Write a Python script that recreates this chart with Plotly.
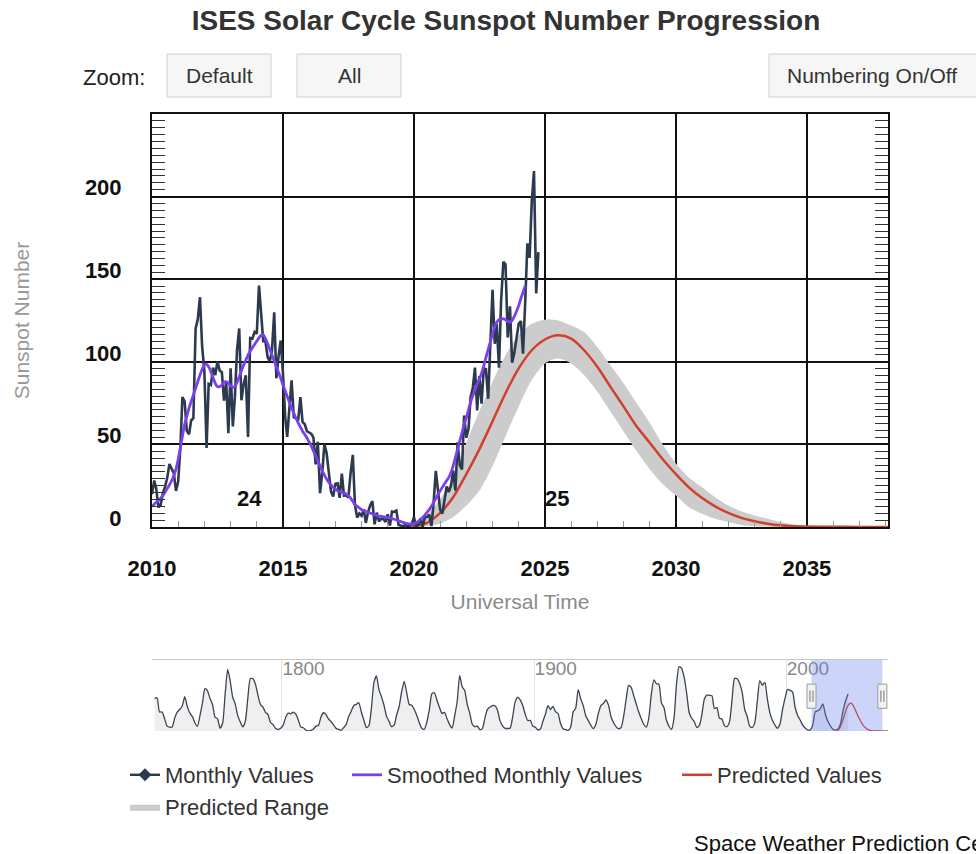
import pandas as pd
import plotly.graph_objects as go

# ---------------- data ----------------
monthly_start = "2010-01-01"
monthly_values = [
    19.8, 28.1, 23.3, 11.9, 13.3, 20.4, 24.3, 29.6, 38.1, 35.5, 32.6, 21.9,
    27.3, 48.3, 78.6, 76.1, 58.2, 56.1, 64.5, 65.8, 120.1, 125.7, 139.1, 109.3,
    94.4, 47.8, 86.6, 85.9, 96.5, 92.0, 100.1, 94.8, 93.7, 76.5, 87.6, 56.8,
    96.1, 60.9, 78.3, 107.3, 120.2, 76.7, 86.2, 91.8, 54.5, 114.4, 114.0, 118.1,
    117.0, 146.1, 128.7, 112.5, 112.5, 102.9, 100.2, 106.9, 130.0, 90.0, 103.6, 112.9,
    93.0, 66.7, 54.5, 75.3, 88.8, 66.5, 65.8, 64.4, 78.6, 63.6, 62.2, 58.0,
    57.0, 56.4, 54.1, 37.9, 51.5, 20.5, 32.4, 50.2, 44.6, 33.4, 21.4, 18.5,
    26.1, 26.4, 17.7, 32.3, 18.9, 19.2, 17.8, 32.6, 43.7, 13.2, 5.7, 8.2,
    6.8, 10.7, 2.5, 8.9, 13.1, 15.6, 1.6, 8.7, 3.3, 4.9, 4.9, 3.1,
    7.7, 0.8, 9.4, 9.1, 9.9, 1.2, 0.9, 0.5, 1.1, 0.4, 0.5, 1.5,
    6.2, 0.2, 1.5, 5.2, 0.2, 5.8, 6.1, 7.5, 0.6, 14.4, 34.0, 21.8,
    10.4, 8.2, 17.2, 24.5, 21.2, 25.0, 34.3, 22.0, 51.3, 37.4, 34.8, 67.5,
    54.0, 59.7, 78.5, 84.1, 96.5, 70.5, 91.4, 74.6, 96.0, 95.5, 77.6, 113.1,
    143.6, 110.9, 122.8, 96.4, 137.4, 160.5, 159.1, 114.8, 133.6, 99.4, 105.4, 114.2,
    123.0, 124.7, 104.9, 136.5, 171.7, 162.9, 196.8, 215.5, 141.4, 166.4,
]

smoothed_start = "2010-01-01"
smoothed_values = [
    12.5, 13.8, 15.0, 16.1, 17.4, 19.0, 21.0, 23.3, 25.5, 28.0, 31.0, 35.0,
    41.0, 48.0, 55.0, 62.0, 67.0, 72.0, 76.0, 80.0, 84.0, 88.0, 92.0, 95.5,
    98.0, 98.5, 97.0, 94.0, 90.5, 87.0, 85.0, 85.0, 86.0, 87.5, 88.0, 87.0,
    85.5, 84.5, 85.0, 87.5, 91.0, 94.5, 98.0, 101.0, 104.0, 106.5, 108.5, 110.5,
    112.5, 114.5, 116.0, 116.5, 114.0, 111.0, 107.5, 104.0, 100.5, 97.0, 93.5, 90.0,
    86.0, 82.5, 79.0, 75.5, 72.0, 69.0, 66.0, 63.0, 60.5, 58.0, 56.0, 54.0,
    51.5, 49.0, 46.0, 43.0, 40.0, 37.0, 34.0, 31.5, 29.0, 27.0, 25.5, 24.0,
    23.0, 22.0, 21.5, 21.0, 20.5, 20.0, 19.0, 17.5, 15.5, 13.5, 12.5, 11.5,
    10.5, 10.0, 9.5, 9.0, 8.5, 8.0, 7.5, 7.0, 6.5, 6.5, 6.2, 6.0,
    5.8, 5.5, 5.0, 4.7, 4.3, 3.8, 3.3, 2.8, 2.4, 2.0, 1.9, 1.8,
    2.0, 2.6, 3.4, 4.5, 5.7, 7.2, 8.8, 10.5, 12.5, 14.8, 17.2, 19.8,
    22.0, 24.0, 26.0, 28.0, 30.0, 33.0, 37.0, 42.0, 47.0, 52.0, 57.0, 62.0,
    66.0, 71.0, 75.5, 79.5, 83.0, 86.5, 89.5, 93.0, 97.5, 102.5, 107.5, 112.0,
    117.0, 121.0, 124.0, 125.5, 126.0, 126.0, 125.5, 124.5, 124.0, 125.0, 127.5, 130.5,
    134.0, 138.5, 142.0, 146.0,
]

pred_dates = [
    "2019-12-01", "2020-07-01", "2021-01-01", "2021-07-01", "2022-01-01",
    "2022-07-01", "2023-01-01", "2023-07-01", "2024-01-01", "2024-07-01",
    "2025-01-01", "2025-07-01", "2026-01-01", "2026-07-01", "2027-01-01",
    "2027-07-01", "2028-01-01", "2028-07-01", "2029-01-01", "2029-07-01",
    "2030-01-01", "2030-07-01", "2031-01-01", "2031-07-01", "2032-01-01",
    "2032-07-01", "2033-01-01", "2033-07-01", "2034-01-01", "2034-07-01",
    "2035-07-01", "2036-07-01", "2037-07-01", "2038-07-01", "2040-06-01",
]
pred_values = [
    0.0, 2.5, 8.5, 18.0, 32.0, 47.0, 64.0, 81.0, 96.0, 107.0,
    113.5, 116.0, 114.0, 107.0, 97.0, 85.0, 73.0, 61.0, 51.0, 41.0,
    32.0, 24.0, 17.5, 12.5, 8.5, 5.5, 3.5, 2.0, 1.0, 0.5,
    0.2, 0.1, 0.0, 0.0, 0.0,
]
pred_upper = [
    0.0, 7.0, 17.0, 30.0, 51.0, 70.0, 88.0, 104.0, 116.0, 123.0,
    125.5, 125.0, 122.0, 118.0, 109.0, 98.0, 87.0, 75.0, 63.0, 50.0,
    38.5, 30.0, 24.0, 18.0, 13.0, 9.5, 7.0, 5.0, 3.0, 1.5,
    0.3, 0.0, 0.0, 0.0, 0.0,
]
pred_lower = [
    0.0, 0.5, 2.0, 6.0, 13.0, 22.0, 37.0, 55.0, 73.0, 89.0,
    99.0, 102.0, 99.0, 92.0, 82.0, 70.0, 58.0, 46.0, 35.0, 26.0,
    19.0, 12.0, 8.0, 5.0, 3.0, 1.2, 0.5, 0.2, 0.0, 0.0,
    0.0, 0.0, 0.0, 0.0, 0.0,
]

nav_first_year = 1749
nav_values = [
    134.8, 139.0, 79.5, 79.7, 51.2, 20.3, 16.0, 17.0, 54.0, 79.3,
    90.0, 104.8, 143.2, 102.0, 75.2, 60.7, 34.8, 19.0, 63.0, 116.3,
    176.8, 168.0, 136.0, 110.8, 58.0, 51.0, 11.7, 33.0, 154.2, 257.3,
    209.8, 141.3, 113.5, 64.2, 38.0, 17.0, 40.2, 138.2, 220.0, 218.2,
    196.8, 149.8, 111.0, 100.0, 78.2, 68.3, 35.5, 26.7, 10.7, 6.8,
    11.3, 24.2, 56.7, 75.0, 71.8, 79.2, 70.3, 46.8, 16.8, 13.5,
    4.2, 0.0, 2.3, 8.3, 20.3, 23.2, 59.0, 76.3, 68.3, 50.2,
    39.8, 26.0, 11.0, 6.7, 3.0, 14.2, 27.7, 60.5, 82.7, 107.0,
    111.7, 118.2, 79.7, 45.8, 14.2, 22.0, 94.8, 202.5, 230.5, 172.0,
    142.8, 107.7, 61.2, 40.3, 17.8, 25.0, 66.8, 102.5, 164.2, 207.8,
    160.5, 111.0, 107.5, 90.2, 65.0, 34.3, 11.2, 7.2, 37.8, 91.3,
    156.3, 159.7, 128.7, 98.5, 73.3, 78.3, 50.8, 27.2, 12.2, 62.7,
    123.3, 231.7, 185.3, 169.3, 110.3, 74.5, 28.3, 18.8, 20.7, 5.7,
    10.0, 53.8, 90.5, 99.5, 106.2, 105.8, 87.0, 42.3, 21.8, 11.3,
    10.5, 11.8, 59.3, 121.7, 141.8, 130.0, 106.7, 69.7, 43.7, 44.5,
    20.2, 15.8, 4.5, 8.3, 40.7, 70.0, 105.8, 89.7, 103.3, 80.8,
    73.2, 31.0, 9.5, 6.0, 2.3, 16.0, 79.0, 95.2, 173.2, 134.3,
    106.0, 62.7, 43.5, 23.7, 9.7, 27.8, 73.8, 106.5, 115.0, 129.7,
    108.2, 59.5, 35.3, 18.5, 9.5, 14.5, 60.2, 132.8, 190.7, 182.7,
    148.0, 113.0, 79.2, 51.0, 27.2, 16.0, 55.3, 154.3, 214.0, 198.0,
    195.0, 118.0, 98.0, 45.0, 20.0, 6.6, 54.0, 200.0, 269.3, 261.7,
    225.1, 159.0, 76.4, 53.4, 39.9, 15.0, 22.0, 66.8, 132.9, 150.0,
    149.4, 148.0, 94.4, 97.6, 54.1, 49.2, 22.5, 18.4, 39.3, 131.0,
    220.1, 218.9, 198.9, 162.4, 91.0, 60.5, 20.6, 14.8, 33.9, 123.0,
    211.1, 191.8, 203.3, 133.0, 76.1, 44.9, 25.1, 11.6, 28.9, 88.3,
    136.3, 173.9, 170.4, 163.6, 99.3, 65.3, 45.8, 24.7, 12.6, 4.2,
    4.8, 24.9, 80.8, 84.5, 94.0, 113.3, 69.8, 39.8, 21.7, 7.0,
    3.6, 8.8, 29.6, 83.2, 125.5, 154.7,
]

cycle_names = ["24", "25"]
cycle_dates = ["2013-09-25", "2025-06-15"]
cycle_levels = [17, 17]

main_x_range = ["2010-01-01", "2038-02-05"]
main_y_range = [0, 250]
main_y_ticks = [0, 50, 100, 150, 200]
nav_x_range = ["1748-07-01", "2040-05-01"]
nav_y_range = [0, 297]

# ---------------- layout helpers ----------------
W, H = 976, 854
ML, MR, MT, MB = 152, 88, 114, 123
PW = W - ML - MR
PH = H - MT - MB
BOTTOM = H - MB


def px(x):
    return (x - ML) / PW


def py(y):
    return (BOTTOM - y) / PH


FONT = "Liberation Sans, Arial, Helvetica, sans-serif"
NAVY = "#2b3a4e"
PURPLE = "#7a40ee"
RED = "#d0402f"
BAND = "rgb(204,204,204)"

monthly_dates = pd.date_range(monthly_start, periods=len(monthly_values), freq="MS")
smoothed_dates = pd.date_range(smoothed_start, periods=len(smoothed_values), freq="MS")
nav_dates = [f"{nav_first_year + i}-07-01" for i in range(len(nav_values))]

fig = go.Figure()

# predicted range band
fig.add_trace(go.Scatter(
    x=pred_dates, y=pred_lower, mode="lines",
    line=dict(width=0, shape="spline", smoothing=0.8, color=BAND),
    showlegend=False, legendgroup="range", hoverinfo="skip"))
fig.add_trace(go.Scatter(
    x=pred_dates, y=pred_upper, mode="lines", name="Predicted Range",
    line=dict(width=0, shape="spline", smoothing=0.8, color="#8c8c8c"),
    fill="tonexty", fillcolor=BAND, legend="legend4", legendgroup="range"))
# predicted values
fig.add_trace(go.Scatter(
    x=pred_dates, y=pred_values, mode="lines", name="Predicted Values",
    line=dict(width=2.5, color=RED, shape="spline", smoothing=0.8),
    legend="legend3"))
# monthly values
fig.add_trace(go.Scatter(
    x=monthly_dates, y=monthly_values, mode="lines", name="Monthly Values",
    line=dict(width=2.6, color=NAVY), showlegend=False, legendgroup="monthly"))
# smoothed
fig.add_trace(go.Scatter(
    x=smoothed_dates, y=smoothed_values, mode="lines", name="Smoothed Monthly Values",
    line=dict(width=2.8, color=PURPLE, shape="spline", smoothing=0.6),
    legend="legend2"))
# legend entry for monthly values (line + diamond symbol)
fig.add_trace(go.Scatter(
    x=[None], y=[None], mode="lines+markers", name="Monthly Values",
    line=dict(width=2.4, color=NAVY), marker=dict(symbol="diamond", size=10, color=NAVY),
    legend="legend", legendgroup="monthly"))

# navigator
fig.add_trace(go.Scatter(
    x=nav_dates, y=nav_values, xaxis="x2", yaxis="y2", mode="lines",
    line=dict(width=1.3, color="#3a4352", shape="spline", smoothing=0.6),
    fill="tozeroy", fillcolor="#efefef", showlegend=False, hoverinfo="skip"))
fig.add_trace(go.Scatter(
    x=pred_dates, y=pred_values, xaxis="x2", yaxis="y2", mode="lines",
    line=dict(width=1.3, color=RED, shape="spline", smoothing=0.8),
    showlegend=False, hoverinfo="skip"))

# cycle number labels
for name, d, lv in zip(cycle_names, cycle_dates, cycle_levels):
    fig.add_annotation(x=d, y=lv, xref="x", yref="y", text=f"<b>{name}</b>",
                       showarrow=False, xanchor="center", yanchor="middle",
                       font=dict(size=22, color="#111", family=FONT))

shapes = []
annotations = []


def button(x0, x1, text_cx, label):
    shapes.append(dict(type="rect", xref="paper", yref="paper",
                       x0=px(x0), x1=px(x1), y0=py(97), y1=py(54),
                       fillcolor="#f6f6f6", line=dict(color="#d0d0d0", width=1), layer="above"))
    annotations.append(dict(x=px(text_cx), y=py(75.5), xref="paper", yref="paper",
                            xanchor="center", yanchor="middle", text=label, showarrow=False,
                            font=dict(size=21, color="#333", family=FONT)))


button(167, 271, 219, "Default")
button(297, 401, 349, "All")
button(769, 990, 872, "Numbering On/Off")
annotations.append(dict(x=px(147), y=py(77), xref="paper", yref="paper", text="Zoom:",
                        xanchor="right", yanchor="middle", showarrow=False,
                        font=dict(size=22, color="#222", family=FONT)))
annotations.append(dict(x=px(692), y=py(843), xref="paper", yref="paper",
                        text="Space Weather Prediction Center", xanchor="left",
                        yanchor="middle", showarrow=False,
                        font=dict(size=22, color="#111", family=FONT)))

# navigator selection mask + handles
shapes.append(dict(type="rect", xref="x2", yref="y2 domain", x0=main_x_range[0], x1=main_x_range[1],
                   y0=0, y1=1, fillcolor="rgba(100,122,240,0.32)", line=dict(width=0), layer="above"))
for edge in main_x_range:
    shapes.append(dict(type="rect", xref="x2", xsizemode="pixel", xanchor=edge, x0=-4.5, x1=4.5,
                       yref="y2 domain", y0=0.32, y1=0.66, fillcolor="#f2f2f2",
                       line=dict(color="#999", width=1), layer="above"))
    for dx in (-1.5, 1.5):
        shapes.append(dict(type="line", xref="x2", xsizemode="pixel", xanchor=edge, x0=dx, x1=dx,
                           yref="y2 domain", y0=0.41, y1=0.57,
                           line=dict(color="#777", width=1), layer="above"))


def leg(text_x, cy):
    return dict(x=px(text_x - 40), y=py(cy), xanchor="left", yanchor="middle",
                orientation="h", bgcolor="rgba(0,0,0,0)", borderwidth=0,
                font=dict(size=22, color="#333", family=FONT))


fig.update_layout(
    width=W, height=H,
    margin=dict(l=ML, r=MR, t=MT, b=MB, autoexpand=False),
    paper_bgcolor="white", plot_bgcolor="white",
    font=dict(family=FONT),
    title=dict(text="ISES Solar Cycle Sunspot Number Progression",
               x=506 / W, xanchor="center", xref="container",
               y=1 - 20 / H, yanchor="middle", yref="container",
               font=dict(size=28, color="#333", family=FONT, weight=700)),
    xaxis=dict(type="date", range=main_x_range, domain=[0, 1], anchor="y",
               dtick="M60", tick0="2010-01-01", tickformat="%Y",
               showgrid=True, gridcolor="#111", gridwidth=1.6,
               showline=True, linecolor="#111", linewidth=2, mirror=True,
               ticks="",
               minor=dict(dtick="M12", ticks="inside", ticklen=6, tickcolor="#999", tickwidth=1),
               tickfont=dict(size=22, color="#111", family=FONT, weight=700),
               ticklabelstandoff=21,
               title=dict(text="Universal Time", standoff=14,
                          font=dict(size=21, color="#8a8a8a", family=FONT))),
    yaxis=dict(domain=[py(527), 1], range=main_y_range, anchor="x",
               tickmode="array", tickvals=main_y_ticks,
               showgrid=True, gridcolor="#111", gridwidth=1.6,
               zeroline=False, showline=True, linecolor="#111", linewidth=2,
               mirror="ticks", ticks="inside", ticklen=13, tickcolor="#111", tickwidth=1.6,
               minor=dict(tickmode="linear", tick0=0, dtick=50 / 12, ticks="inside",
                          ticklen=13, tickcolor="#333", tickwidth=1.4),
               tickfont=dict(size=22, color="#111", family=FONT, weight=700),
               ticklabelstandoff=24, ticklabelshift=-9,
               title=dict(text="Sunspot Number", standoff=50,
                          font=dict(size=21, color="#999", family=FONT))),
    xaxis2=dict(type="date", range=nav_x_range, domain=[0, 1], anchor="y2", side="top",
                dtick="M1200", tick0="1800-01-01", tickformat="%Y",
                showgrid=True, gridcolor="#e3e3e3", gridwidth=1,
                showline=True, linecolor="#c8c8c8", linewidth=1, ticks="",
                ticklabelposition="inside right",
                tickfont=dict(size=19, color="#888", family=FONT)),
    yaxis2=dict(domain=[0, py(660)], range=nav_y_range, anchor="x2", visible=False),
    legend=leg(165, 775),
    legend2=leg(387, 775),
    legend3=leg(717, 775),
    legend4=leg(165, 807),
    shapes=shapes,
    annotations=list(fig.layout.annotations) + annotations,
)

fig.write_html("out.html", config={"displayModeBar": False},
               post_script="document.body.style.margin='0px';")
